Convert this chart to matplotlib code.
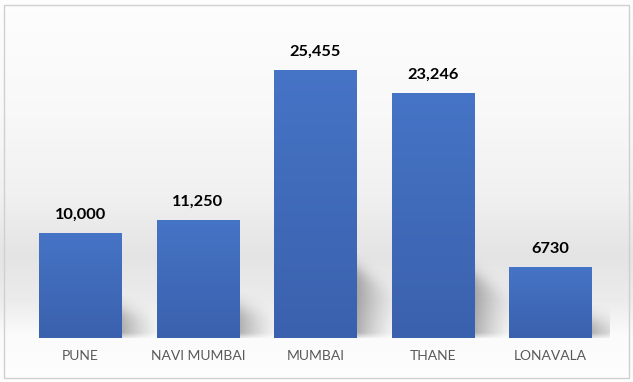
import numpy as np
import matplotlib
matplotlib.use("Agg")
import matplotlib.pyplot as plt
from matplotlib.colors import LinearSegmentedColormap
from matplotlib.patches import Rectangle

# dados
cidades = ["PUNE", "NAVI MUMBAI", "MUMBAI", "THANE", "LONAVALA"]
valores = [10000, 11250, 25455, 23246, 6730]
rotulos = ["10,000", "11,250", "25,455", "23,246", "6730"]

W, H, DPI = 633, 382, 100
fig = plt.figure(figsize=(W / DPI, H / DPI), dpi=DPI)
fig.patch.set_facecolor("white")

# fundo com gradiente vertical (cinza suave no meio)
bg = fig.add_axes([0, 0, 1, 1], zorder=-5)
rows = np.arange(H)
lum = np.interp(rows, [0, 20, 110, 190, 255, 300, 335, 382],
                [0.995, 0.99, 0.975, 0.945, 0.895, 0.925, 0.985, 0.995])
img = np.repeat(lum[:, None], W, axis=1)
bg.imshow(np.dstack([img, img, img]), aspect="auto", extent=[0, W, H, 0])
bg.set_xlim(0, W)
bg.set_ylim(H, 0)
bg.axis("off")

# moldura do gráfico
fig.patches.append(Rectangle((3.5 / W, 4.5 / H), 625.5 / W, 373 / H,
                             transform=fig.transFigure, fill=False,
                             edgecolor="#D0D0D0", linewidth=1.0))

ax = fig.add_axes([21.75 / W, 44 / H, 587.5 / W, 316 / H])
ax.patch.set_alpha(0)

x = np.arange(len(cidades))
largura = 0.706
ymax = 30000
barras = ax.bar(x, valores, width=largura, color="#4169BA", zorder=2)

# gradiente nas barras
cmap = LinearSegmentedColormap.from_list("barra", ["#3A61AD", "#4674C6"])
grad = np.linspace(0, 1, 256).reshape(-1, 1)
for b in barras:
    x0, v = b.get_x(), b.get_height()
    im = ax.imshow(grad, extent=[x0, x0 + largura, 0, v], origin="lower",
                   aspect="auto", cmap=cmap, zorder=3)
    im.set_clip_path(b)

# sombras difusas à direita das barras
px_x = 587.5 / len(cidades)      # pixels por categoria
px_y = 316 / ymax                # pixels por unidade
L = 45
dx = np.linspace(0, L, 90)
for b in barras:
    h_px = b.get_height() * px_y
    S = 0.26 * h_px
    top = S + 14
    dy = np.linspace(0, top, 90)
    DX, DY = np.meshgrid(dx, dy)
    topo = S * (1 - 0.45 * DX / L)
    a = 1 / (1 + np.exp(-(topo - DY) / 5.0))
    a *= np.clip((DY + 2) / 7, 0, 1)
    a *= np.clip(1 - DX / L, 0, 1) ** 1.5
    rgba = np.zeros(DX.shape + (4,))
    rgba[..., 3] = 0.3 * a
    xr = b.get_x() + largura
    ax.imshow(rgba, extent=[xr, xr + L / px_x, 0, top / px_y],
              origin="lower", aspect="auto", zorder=1,
              interpolation="bilinear")

for xi, v, r in zip(x, valores, rotulos):
    ax.annotate(r, (xi, v), xytext=(0, 8), textcoords="offset points",
                ha="center", va="bottom", fontsize=11.8, fontweight="bold",
                family=["Lato", "DejaVu Sans"], color="black")

ax.set_xlim(-0.5, len(cidades) - 0.5)
ax.set_ylim(0, ymax)
ax.set_xticks(x)
ax.set_xticklabels(cidades, fontsize=10, color="#595959",
                   family=["Lato", "DejaVu Sans"])
ax.tick_params(axis="x", length=0, pad=9)
ax.set_yticks([])
for s in ax.spines.values():
    s.set_visible(False)

fig.savefig("out.png", dpi=DPI)
